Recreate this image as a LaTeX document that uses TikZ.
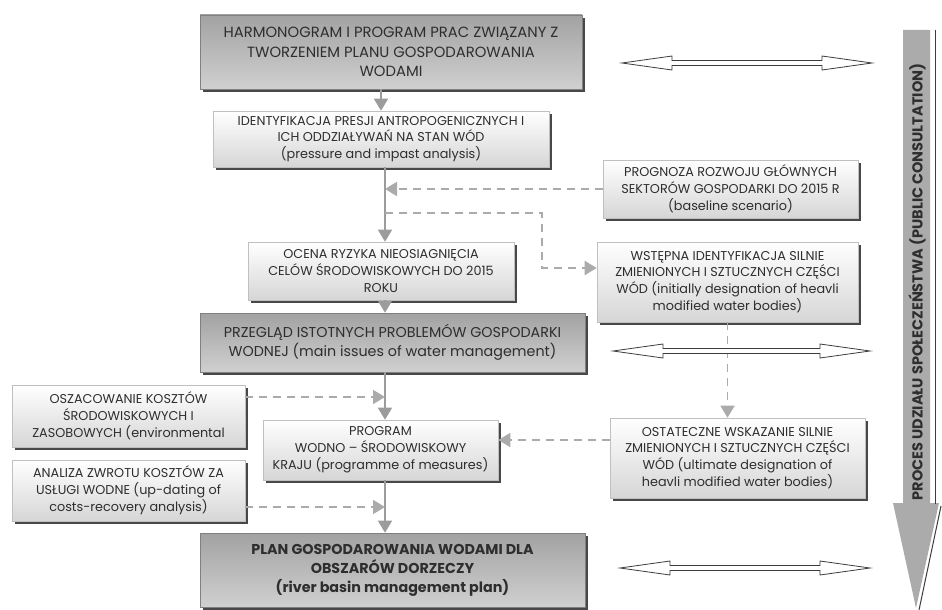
\documentclass[tikz,border=0pt]{standalone}
\usepackage{fontspec}
\setmainfont{Poppins}
\usetikzlibrary{arrows.meta,shadows,calc}
\definecolor{txt}{HTML}{2E2E2E}
\definecolor{lboxb}{HTML}{D6D6D6}
\definecolor{lboxd}{HTML}{C0C0C0}
\definecolor{dboxt}{HTML}{A2A2A2}
\definecolor{dboxb}{HTML}{D0D0D0}
\definecolor{shad}{HTML}{484848}
\definecolor{conn}{HTML}{9C9C9C}
\definecolor{dash}{HTML}{ABABAB}
\definecolor{bigfill}{HTML}{ABABAB}
\definecolor{edge}{HTML}{3C3C3C}
\newcommand{\hollowarrow}[3]{%
  \draw[hollow] (#2,#1) -- ++(50,-7) -- ++(0,4.5) -- (#3-50,#1-2.5) -- ++(0,-4.5) -- (#3,#1)
    -- ++(-50,7) -- ++(0,-4.5) -- (#2+50,#1+2.5) -- ++(0,4.5) -- cycle;}
\begin{document}
\begin{tikzpicture}[x=1pt,y=-1pt,
  box/.style={draw=lboxd, line width=0.6pt, align=center, inner sep=0pt, text=txt,
    drop shadow={shadow xshift=3pt, shadow yshift=-3pt, fill=shad, opacity=1}},
  lbox/.style={box, top color=white, bottom color=lboxb, font=\fontsize{12.8}{16.8}\selectfont},
  dbox/.style={box, draw=gray, top color=dboxt, bottom color=dboxb, font=\fontsize{14.8}{19.5}\selectfont},
  solidc/.style={draw=conn, line width=1.6pt, -{Triangle[length=12pt,width=14pt]}},
  dashc/.style={draw=dash, line width=1.8pt, dash pattern=on 8pt off 6pt},
  dasharr/.style={dashc, -{Triangle[length=12pt,width=14pt]}},
  hollow/.style={draw=edge, fill=white, line width=0.8pt, line join=miter},
]
\useasboundingbox (0,0) rectangle (942,610);
\fill[white] (0,0) rectangle (942,610);

% boxes
\node[dbox, minimum width=382pt, minimum height=74pt] (top) at (391,52)
  {HARMONOGRAM I PROGRAM PRAC ZWIĄZANY Z\\TWORZENIEM PLANU GOSPODAROWANIA\\WODAMI};
\node[lbox, minimum width=336pt, minimum height=56pt] (ident) at (381,139)
  {IDENTYFIKACJA PRESJI ANTROPOGENICZNYCH I\\ICH ODDZIAŁYWAŃ NA STAN WÓD\\(pressure and impast analysis)};
\node[lbox, minimum width=255pt, minimum height=58pt] (prog) at (730.5,189)
  {PROGNOZA ROZWOJU GŁÓWNYCH\\SEKTORÓW GOSPODARKI DO 2015 R\\(baseline scenario)};
\node[lbox, minimum width=266pt, minimum height=58pt] (ocena) at (381,271)
  {OCENA RYZYKA NIEOSIAGNIĘCIA\\CELÓW ŚRODOWISKOWYCH DO 2015\\ROKU};
\node[lbox, minimum width=261pt, minimum height=80pt] (wstep) at (727.5,282)
  {WSTĘPNA IDENTYFIKACJA SILNIE\\ZMIENIONYCH I SZTUCZNYCH CZĘŚCI\\WÓD (initially designation of heavli\\modified water bodies)};
\node[dbox, minimum width=385pt, minimum height=59pt, font=\fontsize{14.3}{19.5}\selectfont] (przeg) at (392.5,342.5)
  {PRZEGLĄD ISTOTNYCH PROBLEMÓW GOSPODARKI\\WODNEJ (main issues of water management)};
\node[lbox, minimum width=233pt, minimum height=62pt] (oszac) at (128.5,416)
  {OSZACOWANIE KOSZTÓW\\ŚRODOWISKOWYCH I\\ZASOBOWYCH (environmental};
\node[lbox, minimum width=233pt, minimum height=61pt] (anal) at (128.5,490.5)
  {ANALIZA ZWROTU KOSZTÓW ZA\\USŁUGI WODNE (up-dating of\\costs-recovery analysis)};
\node[lbox, minimum width=235pt, minimum height=60pt] (program) at (380.5,450)
  {PROGRAM\\WODNO – ŚRODOWISKOWY\\KRAJU (programme of measures)};
\node[lbox, minimum width=255pt, minimum height=80pt] (ostat) at (737.5,458)
  {OSTATECZNE WSKAZANIE SILNIE\\ZMIENIONYCH I SZTUCZNYCH CZĘŚCI\\WÓD (ultimate designation of\\heavli modified water bodies)};
\node[dbox, minimum width=385pt, minimum height=74pt, font=\bfseries\fontsize{14.3}{19}\selectfont] (plan) at (392.5,570)
  {PLAN GOSPODAROWANIA WODAMI DLA\\OBSZARÓW DORZECZY\\(river basin management plan)};

% spine
\coordinate (spine) at (385,0);

% solid connectors
\draw[solidc] (top.south -| ident.north) -- (ident.north);
\draw[solidc] (ident.south -| spine) -- (ocena.north -| spine);
\draw[solidc] (ocena.south -| spine) -- (przeg.north -| spine);
\draw[solidc] (przeg.south -| spine) -- (program.north -| spine);
\draw[solidc] (program.south -| spine) -- (plan.north -| spine);

% dashed connectors
\draw[dasharr] (prog.west) -- (prog.west -| spine);
\coordinate (d1) at (385,213);
\coordinate (d2) at (542,213);
\draw[dasharr] (d1) -- (d2) |- ([yshift=14pt]wstep.west);
\draw[dasharr] (wstep.south) -- (wstep.south |- ostat.north);
\draw[dasharr] ([yshift=18pt]ostat.west) -- ([yshift=18pt]ostat.west -| program.east);
\draw[dasharr] ([yshift=19pt]oszac.east) -- ([yshift=19pt]oszac.east -| spine);
\draw[dasharr] ([yshift=-16.5pt]anal.east) -- ([yshift=-16.5pt]anal.east -| spine);

% hollow double arrows
\hollowarrow{63}{622}{872}
\hollowarrow{351}{613}{870}
\hollowarrow{568}{620}{870}

% big arrow
\fill[bigfill] (903,30) -- (930,30) -- (930,503) -- (939,503) -- (916,608) -- (893,503) -- (903,503) -- cycle;
\draw[edge, line width=1pt] (935,30) -- (935,504);
\draw[edge, line width=1pt] (941,506) -- (919,610);
\node[rotate=90, text=txt, font=\bfseries\fontsize{14.5}{16}\selectfont] (pc) at (917,282)
  {PROCES UDZIAŁU SPOŁECZEŃSTWA (PUBLIC CONSULTATION)};
\end{tikzpicture}
\end{document}
